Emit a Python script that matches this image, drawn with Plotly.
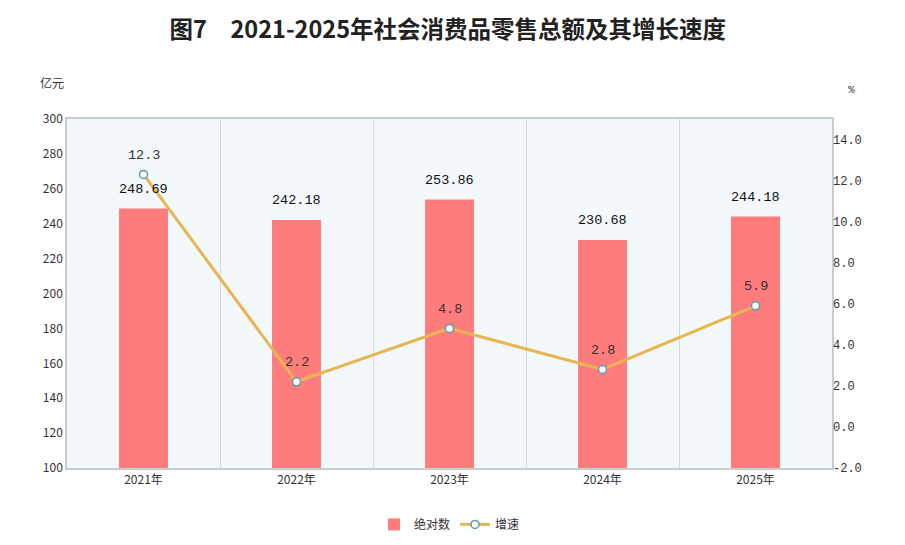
import plotly.graph_objects as go

years = ["2021年", "2022年", "2023年", "2024年", "2025年"]
sales = [248.69, 242.18, 253.86, 230.68, 244.18]
growth = [12.3, 2.2, 4.8, 2.8, 5.9]
left_ticks = list(range(100, 301, 20))
right_ticks = [-2, 0, 2, 4, 6, 8, 10, 12, 14]

label_font = dict(family="Liberation Mono", size=13.5, color="#111")

fig = go.Figure()

fig.add_trace(go.Bar(
    x=years, y=sales, name="绝对数",
    marker=dict(color="#ff7c7c", line=dict(width=0)),
    width=0.32,
))

fig.add_trace(go.Scatter(
    x=years, y=growth, name="增速", yaxis="y2",
    mode="lines+markers",
    line=dict(color="#e8b551", width=3),
    marker=dict(size=8, color="white", line=dict(color="#5b9bb5", width=1.5)),
    cliponaxis=False,
))

# value labels
notes = []
for x, v in zip(years, sales):
    notes.append(dict(x=x, y=v, xref="x", yref="y", text=f"{v:.2f}",
                      showarrow=False, yanchor="middle", yshift=19,
                      font=label_font))
for x, v in zip(years, growth):
    notes.append(dict(x=x, y=v, xref="x", yref="y2", text=f"{v}",
                      showarrow=False, yanchor="middle", yshift=19,
                      font=dict(label_font, color="#333")))

notes += [
    dict(text="亿元", xref="paper", yref="paper", x=-0.038, y=1.106,
         xanchor="left", yanchor="middle", showarrow=False,
         font=dict(size=12, color="#333")),
    dict(text="%", xref="paper", yref="paper", x=1.026, y=1.083,
         xanchor="center", yanchor="middle", showarrow=False,
         font=dict(family="Liberation Mono", size=11, color="#333")),
]

# page body adds ~8px offset, margins compensate for it
fig.update_layout(
    width=905, height=545,
    margin=dict(l=59, r=81, t=111, b=85),
    paper_bgcolor="white", plot_bgcolor="#f3f8fb",
    font=dict(family="Noto Sans CJK SC", size=12, color="#333"),
    title=dict(text="<b>图7　2021-2025年社会消费品零售总额及其增长速度</b>",
               x=0.486, xanchor="center", y=0.96, yanchor="middle",
               font=dict(family="Noto Sans CJK SC", size=23.5, color="#222")),
    xaxis=dict(
        tickson="boundaries", showgrid=True, gridcolor="#d5dadd", gridwidth=1,
        showline=True, linecolor="#c8cdd0", linewidth=1.5, mirror=True,
        ticks="", tickfont=dict(size=12, color="#333"), automargin=False,
    ),
    yaxis=dict(
        range=[100, 300], tickvals=left_ticks, showgrid=False,
        showline=True, linecolor="#c8cdd0", linewidth=1.5, mirror=True,
        ticks="", zeroline=False, tickfont=dict(size=12, color="#333"),
        automargin=False,
    ),
    yaxis2=dict(
        range=[-2, 15], tickvals=right_ticks,
        ticktext=[f"{v:.1f}" for v in right_ticks],
        overlaying="y", side="right", showgrid=False, zeroline=False,
        showline=False, ticks="", automargin=False,
        tickfont=dict(family="Liberation Mono", size=12, color="#333"),
    ),
    legend=dict(orientation="h", x=0.5, xanchor="center", y=-0.12, yanchor="top",
                font=dict(size=12, color="#333"), traceorder="normal"),
    showlegend=True,
    annotations=notes,
)

fig.write_html("out.html")
